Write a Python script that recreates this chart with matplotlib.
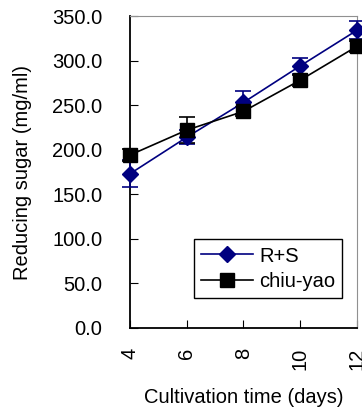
import numpy as np
import matplotlib.pyplot as plt
from matplotlib.lines import Line2D

plt.rcParams['font.family'] = ['Liberation Sans', 'DejaVu Sans']

days = [4, 6, 8, 10, 12]
rs_sugar = [173, 214, 253, 294, 334]
rs_err = [15, 8, 13, 9, 10]
chiu_sugar = [194, 222, 243, 278, 316]
chiu_err = [7, 15, 5, 6, 6]
yticks = [0, 50, 100, 150, 200, 250, 300, 350]

fs = 14.5
fig = plt.figure(figsize=(3.62, 4.11), dpi=100)
ax = fig.add_axes([0.359, 0.202, 0.627, 0.759])

ax.errorbar(days, rs_sugar, yerr=rs_err, color='#000080', marker='D', markersize=8,
            lw=1.2, capsize=5.5, elinewidth=1.2, capthick=1.2, clip_on=False, zorder=3)
ax.errorbar(days, chiu_sugar, yerr=chiu_err, color='black', marker='s', markersize=9.5,
            lw=1.2, capsize=5.5, elinewidth=1.2, capthick=1.2, clip_on=False, zorder=3)

ax.set_xlim(4, 12)
ax.set_ylim(0, 350)
ax.set_xticks([4, 6, 8, 10, 12])
ax.set_yticks(yticks)
ax.set_yticklabels(['%.1f' % v for v in yticks])
ax.tick_params(axis='y', direction='in', length=6, pad=20, labelsize=fs)
ax.tick_params(axis='x', direction='in', length=6, pad=14, labelsize=fs, labelrotation=90)

for s in ['left', 'bottom']:
    ax.spines[s].set_linewidth(1.3)
for s in ['top', 'right']:
    ax.spines[s].set_color('#909090')
    ax.spines[s].set_linewidth(0.8)

ax.set_ylabel('Reducing sugar (mg/ml)', fontsize=fs, labelpad=14)
ax.set_xlabel('Cultivation time (days)', fontsize=fs, labelpad=13)

handles = [Line2D([], [], color='#000080', marker='D', markersize=8, lw=1.2),
           Line2D([], [], color='black', marker='s', markersize=9.5, lw=1.2)]
leg = ax.legend(handles, ['R+S', 'chiu-yao'], loc='lower right', fontsize=fs,
                fancybox=False, framealpha=1, edgecolor='black', borderpad=0.35,
                handlelength=2.6, handletextpad=0.3, labelspacing=0.3,
                bbox_to_anchor=(0.98, 0.065))
leg.get_frame().set_linewidth(1.0)

fig.savefig('out.png', dpi=100)
